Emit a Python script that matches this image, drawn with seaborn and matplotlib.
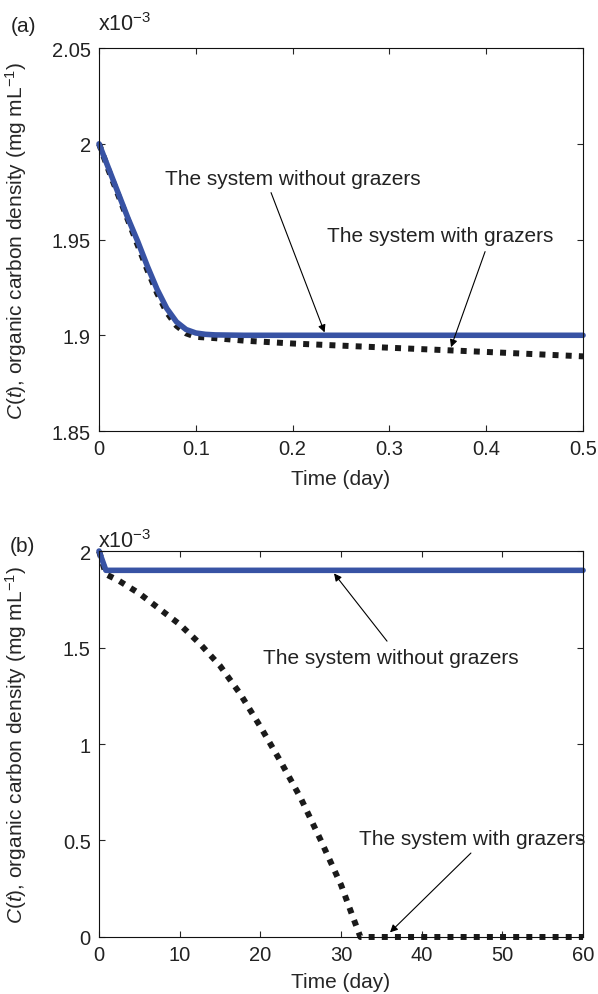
import numpy as np
import pandas as pd
import matplotlib
matplotlib.use("Agg")
import matplotlib.pyplot as plt
import seaborn as sns

# ---------------------------------------------------------------------------
# dados (C em unidades de 1e-3 mg/mL)
# ---------------------------------------------------------------------------
# painel (a): 0 a 0.5 dia
t_a_sem   = [0, 0.01, 0.02, 0.03, 0.04, 0.05, 0.06, 0.07, 0.08, 0.09, 0.10, 0.11, 0.12, 0.15, 0.2, 0.3, 0.4, 0.5]
c_a_sem   = [2.0, 1.987, 1.974, 1.961, 1.949, 1.936, 1.924, 1.914, 1.907, 1.903, 1.9012, 1.9005, 1.9002, 1.9, 1.9, 1.9, 1.9, 1.9]
t_a_com   = [0, 0.01, 0.02, 0.03, 0.04, 0.05, 0.06, 0.07, 0.08, 0.09, 0.10, 0.12, 0.15, 0.2, 0.3, 0.4, 0.5]
c_a_com   = [2.0, 1.986, 1.973, 1.960, 1.947, 1.934, 1.922, 1.912, 1.905, 1.901, 1.8992, 1.8985, 1.8972, 1.8957, 1.8935, 1.8913, 1.889]

# painel (b): 0 a 60 dias
t_b_sem   = [0, 0.85, 60]
c_b_sem   = [2.0, 1.9, 1.9]
t_b_com   = [0, 0.85, 2.5, 5, 7.5, 10, 12.5, 15, 17.5, 20, 22.5, 25, 27.5, 30, 31.5, 32.4, 40, 50, 60]
c_b_com   = [2.0, 1.88, 1.845, 1.78, 1.70, 1.62, 1.52, 1.405, 1.26, 1.09, 0.91, 0.72, 0.50, 0.27, 0.10, 0.0, 0.0, 0.0, 0.0]

YTICKS_A = [1.85, 1.9, 1.95, 2, 2.05]
YTICKS_B = [0, 0.5, 1, 1.5, 2]
XTICKS_A = [0, 0.1, 0.2, 0.3, 0.4, 0.5]
XTICKS_B = [0, 10, 20, 30, 40, 50, 60]

TXT_SEM = "The system without grazers"
TXT_COM = "The system with grazers"
YLABEL  = r"$C(t)$, organic carbon density (mg mL$^{-1}$)"
XLABEL  = "Time (day)"

AZUL  = "#3853A4"
PRETO = "#1a1a1a"

sns.set_style("ticks")
plt.rcParams.update({
    "font.family": ["Liberation Sans", "DejaVu Sans"],
    "mathtext.fontset": "custom",
    "mathtext.rm": "Liberation Sans",
    "mathtext.it": "Liberation Sans:italic",
    "axes.linewidth": 0.8,
    "axes.edgecolor": "#111111",
    "xtick.direction": "in",
    "ytick.direction": "in",
    "xtick.top": True,
    "ytick.right": True,
    "xtick.major.size": 4,
    "ytick.major.size": 4,
    "xtick.major.width": 0.8,
    "ytick.major.width": 0.8,
    "text.color": "#222222",
    "xtick.labelcolor": "#222222",
    "ytick.labelcolor": "#222222",
})

fig = plt.figure(figsize=(5.98, 9.95), dpi=100)
ax_a = fig.add_axes([0.1656, 0.5658, 0.8094, 0.3849])
ax_b = fig.add_axes([0.1656, 0.0573, 0.8094, 0.3879])


def desenha(ax, t_sem, c_sem, t_com, c_com):
    sns.lineplot(x=t_com, y=c_com, ax=ax, color=PRETO, linewidth=4.3,
                 linestyle=(0, (1.0, 1.2)), sort=False)
    sns.lineplot(x=t_sem, y=c_sem, ax=ax, color=AZUL, linewidth=4.0, sort=False)
    ax.lines[0].set_dash_capstyle("butt")
    for ln in ax.lines:
        ln.set_clip_on(False)


def estilo(ax, xt, yt, xlim, ylim, xlab_y):
    ax.set_xlim(*xlim)
    ax.set_ylim(*ylim)
    ax.set_xticks(xt)
    ax.set_yticks(yt)
    ax.set_xticklabels([f"{v:g}" for v in xt])
    ax.set_yticklabels([f"{v:g}" for v in yt])
    ax.tick_params(axis="both", labelsize=14.5, pad=6)
    ax.set_xlabel(XLABEL, fontsize=15)
    ax.set_ylabel(YLABEL, fontsize=15)
    ax.yaxis.set_label_coords(-0.145, 0.5)
    ax.xaxis.set_label_coords(0.5, xlab_y)
    for s in ax.spines.values():
        s.set_visible(True)


seta = dict(arrowstyle="-|>", color="black", lw=0.8, mutation_scale=11, shrinkA=0, shrinkB=0)

# ── (a) ────────────────────────────────────────────────────────────────────
desenha(ax_a, t_a_sem, c_a_sem, t_a_com, c_a_com)
estilo(ax_a, XTICKS_A, YTICKS_A, (0, 0.5), (1.85, 2.05), -0.098)
ax_a.text(0.2004, 1.9792, TXT_SEM, ha="center", va="baseline", fontsize=15)
ax_a.annotate("", xy=(0.233, 1.9015), xytext=(0.1777, 1.9745), arrowprops=seta)
ax_a.text(0.3523, 1.9491, TXT_COM, ha="center", va="baseline", fontsize=15)
ax_a.annotate("", xy=(0.3636, 1.8938), xytext=(0.3988, 1.9437), arrowprops=seta)

# ── (b) ────────────────────────────────────────────────────────────────────
desenha(ax_b, t_b_sem, c_b_sem, t_b_com, c_b_com)
estilo(ax_b, XTICKS_B, YTICKS_B, (0, 60), (0, 2), -0.09)
ax_b.text(36.2, 1.419, TXT_SEM, ha="center", va="baseline", fontsize=15)
ax_b.annotate("", xy=(29.13, 1.884), xytext=(35.7, 1.533), arrowprops=seta)
ax_b.text(46.24, 0.481, TXT_COM, ha="center", va="baseline", fontsize=15)
ax_b.annotate("", xy=(36.07, 0.024), xytext=(46.1, 0.435), arrowprops=seta)

# rótulos dos painéis e fator de escala
fig.text(23.5 / 598, 1 - 32 / 995, "(a)", ha="center", va="baseline", fontsize=15)
fig.text(22.5 / 598, 1 - 552 / 995, "(b)", ha="center", va="baseline", fontsize=15)
fig.text(98 / 598, 1 - 31 / 995, r"x10$^{-3}$", ha="left", va="baseline", fontsize=15.5)
fig.text(98 / 598, 1 - 548 / 995, r"x10$^{-3}$", ha="left", va="baseline", fontsize=15.5)

fig.savefig("out.png", dpi=100)
